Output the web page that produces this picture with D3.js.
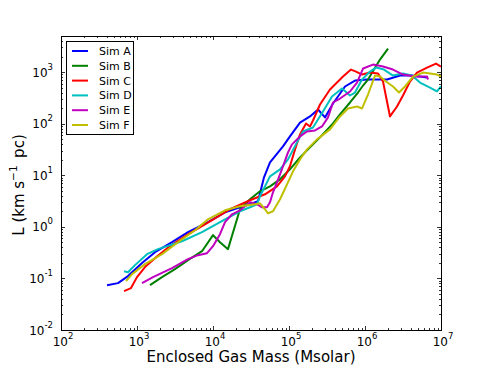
<!DOCTYPE html>
<html>
<head>
<meta charset="utf-8">
<script src="https://cdn.jsdelivr.net/npm/d3@7"></script>
<style>
  body { margin: 0; background: #fff; }
  text { font-family: "DejaVu Sans", sans-serif; fill: #000; }
</style>
</head>
<body>
<svg id="chart"></svg>
<script>
// series names and colours
var simNames = ["Sim A", "Sim B", "Sim C", "Sim D", "Sim E", "Sim F"];
var simColors = ["#0000ff", "#008000", "#ff0000", "#00bfbf", "#bf00bf", "#bfbf00"];

// enclosed gas mass (Msolar) and L (km s^-1 pc)
var massA = [403, 562, 762, 1164, 1726, 2890, 4690, 8590, 14390, 22650, 30690, 39080, 42850, 46900, 56230, 83370, 103000, 139600, 188800, 240900, 297700, 379300, 545800, 738500, 1.06e6, 1.95e6, 2.89e6, 4.15e6, 6.55e6];
var lumA  = [0.074, 0.081, 0.111, 0.198, 0.323, 0.504, 0.787, 1.23, 1.91, 2.39, 2.74, 3.13, 5.34, 9.1, 17.8, 36.2, 56.5, 105, 138, 188, 132, 246, 525, 685, 716, 716, 855, 855, 783];

var massB = [1483, 2133, 3162, 4690, 7166, 10000, 12360, 15750, 22650, 30690, 41500, 56230, 76200, 103000, 139600, 188800, 255800, 379300, 469000, 635000, 809000, 942000, 1.094e6, 1.313e6, 1.575e6, 2.01e6];
var lumB  = [0.074, 0.106, 0.151, 0.226, 0.337, 0.689, 0.504, 0.369, 2.19, 3.42, 4.88, 6.1, 8.33, 13.0, 22.2, 34.7, 54.1, 101, 151, 257, 401, 548, 716, 1117, 1746, 2850];

var massC = [675, 834, 1000, 1274, 1726, 2717, 4980, 9140, 16750, 30690, 48300, 69500, 88500, 103000, 120000, 139600, 167400, 188800, 207000, 255800, 346000, 514000, 654000, 762000, 914000, 1.164e6, 1.483e6, 1.726e6, 2.133e6, 2.636e6, 3.16e6, 3.91e6, 4.83e6, 6.55e6, 8.59e6, 1e7];
var lumC  = [0.0568, 0.0649, 0.106, 0.166, 0.247, 0.422, 0.752, 1.28, 2.19, 3.27, 4.27, 6.1, 9.52, 14.9, 31.7, 61.8, 101, 88.3, 115, 235, 459, 818, 1117, 1022, 895, 978, 935, 655, 138, 215, 351, 655, 978, 1222, 1460, 1277];

var massD = [675, 762, 941, 1354, 1888, 3910, 7166, 14390, 22650, 30690, 37900, 41500, 56230, 76200, 97000, 127400, 152800, 207000, 280000, 368000, 498000, 635000, 738500, 914000, 1.164e6, 1.396e6, 1.778e6, 2.335e6, 3.16e6, 4.15e6, 5.29e6, 7.16e6, 8.85e6, 1e7];
var lumD  = [0.138, 0.132, 0.181, 0.295, 0.369, 0.526, 0.787, 1.4, 2.0, 2.39, 2.74, 3.91, 9.52, 13.0, 20.3, 43.3, 70.6, 84.4, 172, 336, 480, 351, 401, 716, 1022, 1222, 1117, 855, 935, 855, 626, 501, 420, 525];

var massE = [1164, 1624, 2890, 4690, 6350, 8340, 10000, 12360, 14390, 17780, 22650, 30690, 37900, 44150, 51370, 56230, 61550, 69500, 83370, 97000, 109400, 139600, 172600, 219800, 271800, 326000, 379300, 469000, 635000, 785000, 942000, 1.274e6, 1.726e6, 2.335e6, 3.16e6, 4.55e6, 6.55e6, 6.75e6];
var lumE  = [0.081, 0.106, 0.158, 0.236, 0.282, 0.308, 0.422, 0.719, 1.23, 1.75, 2.09, 2.99, 2.74, 2.39, 2.39, 2.99, 4.67, 7.29, 14.9, 27.7, 39.6, 56.5, 70.6, 73.8, 88.3, 132, 257, 307, 420, 626, 1170, 1396, 1277, 1117, 895, 818, 818, 716];

var massF = [717, 860, 1274, 2133, 3460, 5800, 8590, 14390, 22650, 35700, 41500, 48300, 52960, 61550, 76200, 94200, 113000, 139600, 172600, 233500, 346000, 469000, 597000, 785000, 914000, 1.094e6, 1.355e6, 1.575e6, 1.889e6, 2.335e6, 2.8e6, 3.36e6, 4.28e6, 5.8e6, 8.85e6, 1e7];
var lumF  = [0.0887, 0.121, 0.189, 0.295, 0.504, 0.859, 1.4, 2.09, 2.5, 2.74, 2.86, 2.19, 1.83, 2.0, 3.42, 6.67, 11.9, 20.3, 31.7, 49.5, 77.3, 138, 197, 215, 197, 367, 855, 818, 655, 525, 401, 525, 818, 978, 895, 818];

var allMass = [massA, massB, massC, massD, massE, massF];
var allLum = [lumA, lumB, lumC, lumD, lumE, lumF];

// axis decades for tick labels
var xDecades = [2, 3, 4, 5, 6, 7];
var yDecades = [-2, -1, 0, 1, 2, 3];

var W = 491, H = 368;
var margin = { top: 36, right: 50, bottom: 38, left: 61 },
    width = W - margin.left - margin.right,
    height = H - margin.top - margin.bottom;

var xScale = d3.scaleLog().domain([1e2, 1e7]).range([0, width]);
var yScale = d3.scaleLog().domain([1e-2, 5e3]).range([height, 0]);

var svg = d3.select("#chart")
    .attr("width", W)
    .attr("height", H);

var g = svg.append("g")
    .attr("transform", "translate(" + margin.left + "," + margin.top + ")");

g.append("clipPath").attr("id", "clip")
    .append("rect").attr("width", width).attr("height", height);

// data lines
var line = d3.line()
    .x(function (d) { return xScale(d[0]); })
    .y(function (d) { return yScale(d[1]); });

var series = simNames.map(function (name, i) {
    return {
        name: name,
        color: simColors[i],
        points: allMass[i].map(function (m, j) { return [m, allLum[i][j]]; })
    };
});

g.append("g").attr("clip-path", "url(#clip)")
    .selectAll(".sim")
    .data(series)
    .enter()
    .append("path")
    .attr("class", "sim")
    .attr("d", function (d) { return line(d.points); })
    .attr("fill", "none")
    .attr("stroke", function (d) { return d.color; })
    .attr("stroke-width", 2)
    .attr("stroke-linejoin", "round");

// ticks (inside, on all four sides)
function logTicks(lo, hi) {
    var out = [];
    for (var e = Math.floor(Math.log10(lo)); e <= Math.ceil(Math.log10(hi)); e++) {
        for (var k = 1; k < 10; k++) {
            var v = k * Math.pow(10, e);
            if (v >= lo * 0.9999 && v <= hi * 1.0001) out.push({ v: v, major: k === 1 });
        }
    }
    return out;
}

var tickG = g.append("g").attr("stroke", "#000").attr("stroke-width", 0.8);
logTicks(1e2, 1e7).forEach(function (t) {
    var x = Math.round(xScale(t.v)) + 0.5, len = t.major ? 4 : 2;
    tickG.append("line").attr("x1", x).attr("x2", x).attr("y1", height).attr("y2", height - len);
    tickG.append("line").attr("x1", x).attr("x2", x).attr("y1", 0).attr("y2", len);
});
logTicks(1e-2, 5e3).forEach(function (t) {
    var y = Math.round(yScale(t.v)) + 0.5, len = t.major ? 4 : 2;
    tickG.append("line").attr("x1", 0).attr("x2", len).attr("y1", y).attr("y2", y);
    tickG.append("line").attr("x1", width).attr("x2", width - len).attr("y1", y).attr("y2", y);
});

// frame
g.append("rect")
    .attr("x", 0.5).attr("y", 0.5)
    .attr("width", width).attr("height", height)
    .attr("fill", "none").attr("stroke", "#000").attr("stroke-width", 1);

// tick labels
function powLabel(sel, e) {
    sel.append("tspan").text("10");
    sel.append("tspan").attr("dy", -7).attr("font-size", "8.5px").text(e < 0 ? "-" + (-e) : String(e));
}

xDecades.forEach(function (e) {
    var t = g.append("text")
        .attr("x", xScale(Math.pow(10, e)) + 2)
        .attr("y", height + 16)
        .attr("text-anchor", "middle")
        .attr("font-size", "12px");
    powLabel(t, e);
});
yDecades.forEach(function (e) {
    var t = g.append("text")
        .attr("x", -8)
        .attr("y", yScale(Math.pow(10, e)) + 4.5)
        .attr("text-anchor", "end")
        .attr("font-size", "12px");
    powLabel(t, e);
});

// axis titles
g.append("text")
    .attr("x", width / 2)
    .attr("y", height + 32)
    .attr("text-anchor", "middle")
    .attr("font-size", "15px")
    .text("Enclosed Gas Mass (Msolar)");

var yl = svg.append("text")
    .attr("transform", "translate(24," + (margin.top + height / 2 + 2) + ") rotate(-90)")
    .attr("text-anchor", "middle")
    .attr("font-size", "15px");
yl.append("tspan").text("L (km s");
yl.append("tspan").attr("dy", -7).attr("font-size", "10.5px").text("\u22121");
yl.append("tspan").attr("dy", 7).text("\u2002pc)");

// legend
var legend = g.append("g").attr("transform", "translate(5,5)");
legend.append("rect")
    .attr("x", 0.5).attr("y", 0.5)
    .attr("width", 67).attr("height", 93)
    .attr("fill", "#fff").attr("stroke", "#000").attr("stroke-width", 1);
var rows = legend.selectAll(".row")
    .data(series)
    .enter()
    .append("g")
    .attr("class", "row")
    .attr("transform", function (d, i) { return "translate(0," + (10 + i * 14.8) + ")"; });
rows.append("line")
    .attr("x1", 6).attr("x2", 22)
    .attr("stroke", function (d) { return d.color; })
    .attr("stroke-width", 2);
rows.append("text")
    .attr("x", 33).attr("y", 4)
    .attr("font-size", "11px")
    .text(function (d) { return d.name; });
</script>
</body>
</html>
